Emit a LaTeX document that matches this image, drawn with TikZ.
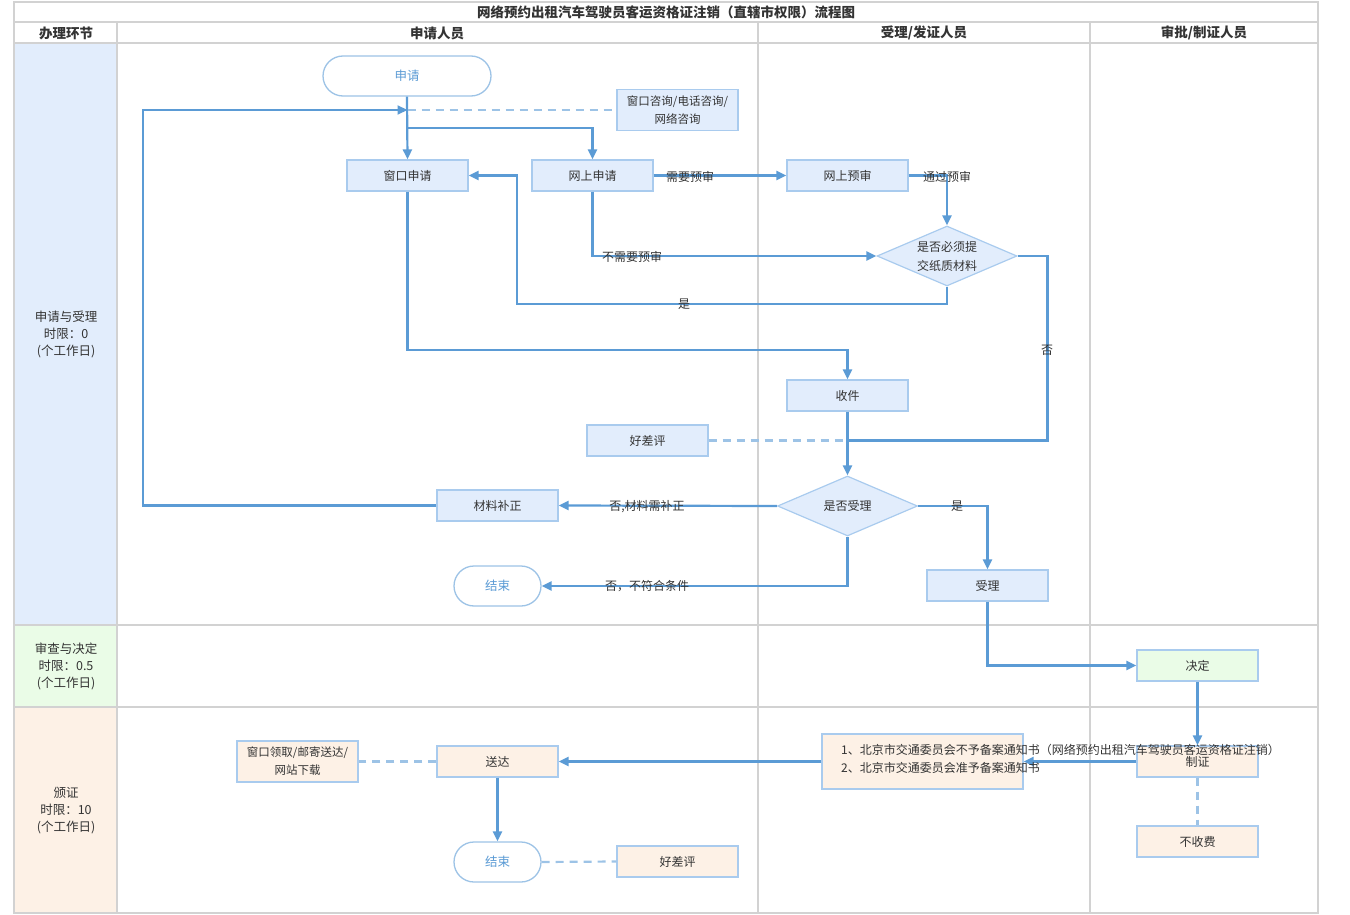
\documentclass[tikz,border=0pt]{standalone}
\usepackage{fontspec}
\setmainfont{Noto Sans CJK SC}
\usetikzlibrary{arrows.meta,shapes.geometric}
\definecolor{lineblue}{HTML}{5B9BD5}
\definecolor{dashblue}{HTML}{9DC3E6}
\definecolor{bordblue}{HTML}{A9CBEE}
\definecolor{fillblue}{HTML}{E2EDFC}
\definecolor{fillgreen}{HTML}{EAFCE7}
\definecolor{fillorange}{HTML}{FDF1E6}
\definecolor{gridgray}{HTML}{D2D2D2}
\definecolor{txt}{HTML}{333333}
\begin{document}
\begin{tikzpicture}[x=1pt,y=-1pt,
  every node/.style={text=txt},
  box/.style={draw=bordblue, line width=1.2pt, fill=fillblue, minimum width=121pt, minimum height=31pt, inner sep=0pt, font=\fontsize{12}{17}\selectfont, align=center},
  gbox/.style={box, fill=fillgreen},
  obox/.style={box, fill=fillorange},
  term/.style={draw=dashblue, line width=1.3pt, fill=white, rounded corners=20pt, minimum height=40pt, inner sep=0pt, text=lineblue, font=\fontsize{12.5}{14}\selectfont},
  dia/.style={draw=bordblue, line width=1.2pt, fill=fillblue, diamond, aspect=2.33, minimum width=140pt, minimum height=60pt, inner sep=0pt, font=\fontsize{12}{19}\selectfont, align=center},
  lbl/.style={inner sep=0pt, font=\fontsize{12}{14}\selectfont},
  hdr/.style={inner sep=0pt, font=\fontsize{13.5}{15}\selectfont\bfseries},
  lane/.style={inner sep=0pt, align=center, font=\fontsize{12.5}{17}\selectfont},
  grid/.style={draw=gridgray, line width=2pt},
  conn/.style={draw=lineblue, line width=2.2pt},
  arr/.style={conn, -{Triangle[length=10pt,width=9pt]}},
  dashline/.style={draw=dashblue, line width=2.2pt, dash pattern=on 8pt off 6pt}
]
\useasboundingbox (0,0) rectangle (1350,915);
% lane fills
\fill[fillblue] (14,43) rectangle (117,625);
\fill[fillgreen] (14,625) rectangle (117,707);
\fill[fillorange] (14,707) rectangle (117,913);
% grid
\draw[grid] (14,2) rectangle (1318,913);
\draw[grid] (14,22) -- (1318,22);
\draw[grid] (14,43) -- (1318,43);
\draw[grid] (14,625) -- (1318,625);
\draw[grid] (14,707) -- (1318,707);
\draw[grid] (117,22) -- (117,913);
\draw[grid] (758,22) -- (758,913);
\draw[grid] (1090,22) -- (1090,913);
% headers
\node[hdr] (title) at (666,12) {网络预约出租汽车驾驶员客运资格证注销（直辖市权限）流程图};
\node[hdr] (h1) at (66,33) {办理环节};
\node[hdr] (h2) at (437,33) {申请人员};
\node[hdr] (h3) at (924,33) {受理/发证人员};
\node[hdr] (h4) at (1204,33) {审批/制证人员};
\node[lane] (l1) at (66,334) {申请与受理\\时限：0\\(个工作日)};
\node[lane] (l2) at (66,666) {审查与决定\\时限：0.5\\(个工作日)};
\node[lane] (l3) at (66,811) {颁证\\时限：10\\(个工作日)};
% nodes lane 1
\node[term, minimum width=168pt] (sq) at (407,76) {申请};
\node[box, minimum height=41pt, font=\fontsize{11.5}{18}\selectfont] (zx) at (677.5,110) {窗口咨询/电话咨询/\\网络咨询};
\node[box] (wsq) at (407.5,175.5) {窗口申请};
\node[box] (wssq) at (592.5,175.5) {网上申请};
\node[box] (wsys) at (847.5,175.5) {网上预审};
\node[dia] (d1) at (947,256) {是否必须提\\交纸质材料};
\node[box] (sj) at (847.5,395.5) {收件};
\node[box] (hcp1) at (647.5,440.5) {好差评};
\node[dia] (d2) at (847.5,506) {是否受理};
\node[box] (bz) at (497.5,505.5) {材料补正};
\node[term, minimum width=87pt] (end1) at (497.5,586) {结束};
\node[box] (sl) at (987.5,585.5) {受理};
% lane 2
\node[gbox] (jd) at (1197.5,665.5) {决定};
% lane 3
\node[obox] (zz) at (1197.5,761.5) {};
\node[obox] (bsf) at (1197.5,841.5) {不收费};
\node[obox, minimum width=201pt, minimum height=55pt] (tz) at (922.5,761.5) {};
\node[obox] (sd) at (497.5,761.5) {送达};
\node[obox, minimum height=41pt, font=\fontsize{11.5}{18}\selectfont] (lq) at (297.5,761.5) {窗口领取/邮寄送达/\\网站下载};
\node[term, minimum width=87pt] (end2) at (497.5,862) {结束};
\node[obox] (hcp2) at (677.5,861.5) {好差评};
% coordinates
\coordinate (j0) at (407.5,110);
\coordinate (j1) at (407.5,128);
\coordinate (c3) at (847.5,350);
\coordinate (m) at (847.5,440.5);
\coordinate (lp) at (143,505.5);
% connectors
\draw[arr] (sq.south) -- (wsq.north);
\draw[dashline] (j0) -- (zx.west);
\draw[arr] (j1) -| (wssq.north);
\draw[arr] (bz.west) -- (lp) |- (j0);
\draw[arr] (wssq.east) -- (wsys.west);
\draw[arr] (wsys.east) -| (d1.north);
\draw[arr] (wssq.south) |- (d1.west);
\draw[arr] (d1.south) |- (517,304) |- (wsq.east);
\draw[conn] (d1.east) -| (1047.5,440.5) -- (m);
\draw[arr] (wsq.south) |- (c3) -- (sj.north);
\draw[dashline] (hcp1.east) -- (m);
\draw[arr] (sj.south) -- (d2.north);
\draw[arr] (d2.west) -- (bz.east);
\draw[arr] (d2.south) |- (end1.east);
\draw[arr] (d2.east) -| (sl.north);
\draw[arr] (sl.south) |- (jd.west);
\draw[arr] (jd.south) -- (zz.north);
\draw[arr] (zz.west) -- (tz.east);
\draw[arr] (tz.west) -- (sd.east);
\draw[dashline] (zz.south) -- (bsf.north);
\draw[dashline] (sd.west) -- (lq.east);
\draw[arr] (sd.south) -- (end2.north);
\draw[dashline] (end2.east) -- (hcp2.west);
% texts over lines
\node[lbl] (zzt) at (1197.5,762) {制证};
\node[lbl, anchor=west] (tz1) at (841,750) {1、北京市交通委员会不予备案通知书（网络预约出租汽车驾驶员客运资格证注销）};
\node[lbl, anchor=west] (tz2) at (841,768) {2、北京市交通委员会准予备案通知书};
\node[lbl] (t1) at (690,176.5) {需要预审};
\node[lbl] (t2) at (947,176.5) {通过预审};
\node[lbl] (t3) at (632,256.5) {不需要预审};
\node[lbl] (t4) at (684,304.5) {是};
\node[lbl] (t5) at (1047,350.5) {否};
\node[lbl] (t6) at (647,506.5) {否,材料需补正};
\node[lbl] (t7) at (957,506.5) {是};
\node[lbl] (t8) at (647,586.5) {否，不符合条件};
\end{tikzpicture}
\end{document}
